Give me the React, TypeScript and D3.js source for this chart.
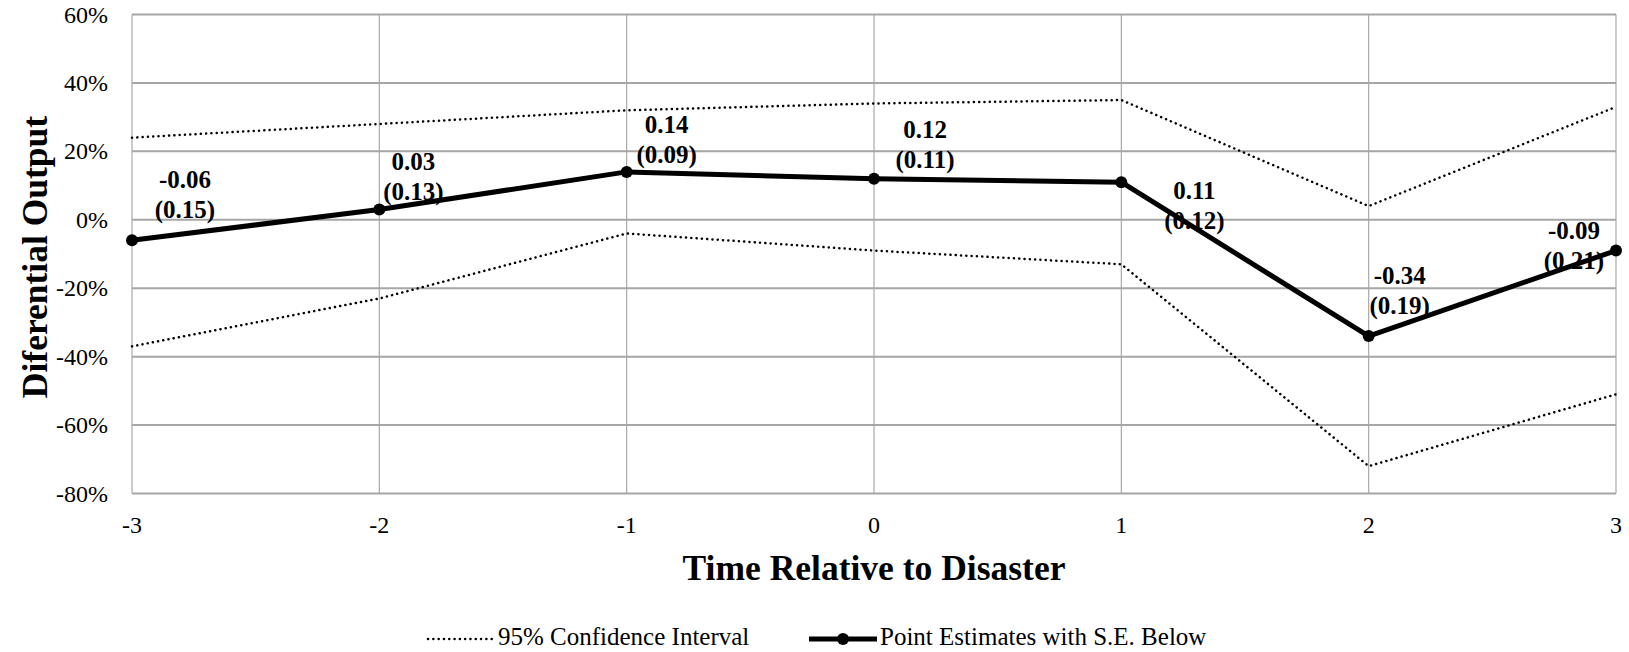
import React, { useEffect, useRef } from 'react';
import * as d3 from 'd3';

// time relative to disaster
const periods = [-3, -2, -1, 0, 1, 2, 3];
// point estimates and standard errors
const estimates = [-0.06, 0.03, 0.14, 0.12, 0.11, -0.34, -0.09];
const stdErrors = [0.15, 0.13, 0.09, 0.11, 0.12, 0.19, 0.21];
// 95% confidence bounds
const ciUpper = [0.24, 0.28, 0.32, 0.34, 0.35, 0.04, 0.33];
const ciLower = [-0.37, -0.23, -0.04, -0.09, -0.13, -0.72, -0.51];
const yTicks = [-0.8, -0.6, -0.4, -0.2, 0, 0.2, 0.4, 0.6];

// where the data labels sit relative to their point (px)
const labelDx = [53, 34, 40, 51, 73, 31, -42];
const labelDy = [-52, -40, -39, -41, 17, -52, -12];

const FONT = "'Liberation Serif', 'Times New Roman', serif";

const App = () => {
  const svgRef = useRef(null);

  useEffect(() => {
    const w = 1629;
    const h = 652;
    const left = 132, right = 1616, top = 14.5, bottom = 493.5;

    const svg = d3.select(svgRef.current);
    svg.selectAll('*').remove();
    svg.attr('width', w).attr('height', h).style('font-family', FONT);

    const x = d3.scaleLinear().domain([-3, 3]).range([left, right]);
    const y = d3.scaleLinear().domain([-0.8, 0.6]).range([bottom, top]);

    // grid
    svg.append('g')
      .selectAll('line')
      .data(periods)
      .enter()
      .append('line')
      .attr('x1', d => x(d)).attr('x2', d => x(d))
      .attr('y1', top).attr('y2', bottom)
      .attr('stroke', '#a9a9a9')
      .attr('stroke-width', 1.2);

    svg.append('g')
      .selectAll('line')
      .data(yTicks)
      .enter()
      .append('line')
      .attr('x1', left).attr('x2', right)
      .attr('y1', d => y(d)).attr('y2', d => y(d))
      .attr('stroke', '#a6a6a6')
      .attr('stroke-width', 2);

    // tick labels
    svg.append('g')
      .selectAll('text')
      .data(yTicks)
      .enter()
      .append('text')
      .attr('x', 108)
      .attr('y', d => y(d) + 8)
      .attr('text-anchor', 'end')
      .style('font-size', '24px')
      .text(d => `${Math.round(d * 100)}%`);

    svg.append('g')
      .selectAll('text')
      .data(periods)
      .enter()
      .append('text')
      .attr('x', d => x(d))
      .attr('y', 533)
      .attr('text-anchor', 'middle')
      .style('font-size', '24px')
      .text(d => `${d}`);

    // axis titles
    svg.append('text')
      .attr('x', (left + right) / 2)
      .attr('y', 580)
      .attr('text-anchor', 'middle')
      .style('font-size', '35.5px')
      .style('font-weight', 'bold')
      .text('Time Relative to Disaster');

    svg.append('text')
      .attr('transform', `translate(47,${(top + bottom) / 2 + 3}) rotate(-90)`)
      .attr('text-anchor', 'middle')
      .style('font-size', '35.5px')
      .style('font-weight', 'bold')
      .text('Diferential Output');

    const line = d3.line()
      .x((d, i) => x(periods[i]))
      .y(d => y(d));

    // confidence interval
    [ciUpper, ciLower].forEach(series => {
      svg.append('path')
        .datum(series)
        .attr('fill', 'none')
        .attr('stroke', 'black')
        .attr('stroke-width', 2.5)
        .attr('stroke-linecap', 'round')
        .attr('stroke-dasharray', '0.1,5.2')
        .attr('d', line);
    });

    // point estimates
    svg.append('path')
      .datum(estimates)
      .attr('fill', 'none')
      .attr('stroke', 'black')
      .attr('stroke-width', 5)
      .attr('stroke-linejoin', 'round')
      .attr('d', line);

    svg.selectAll('circle.pt')
      .data(estimates)
      .enter()
      .append('circle')
      .attr('class', 'pt')
      .attr('cx', (d, i) => x(periods[i]))
      .attr('cy', d => y(d))
      .attr('r', 6)
      .attr('fill', 'black');

    // data labels
    const labels = svg.append('g')
      .selectAll('text')
      .data(estimates)
      .enter()
      .append('text')
      .attr('text-anchor', 'middle')
      .style('font-size', '25px')
      .style('font-weight', 'bold');

    labels.append('tspan')
      .attr('x', (d, i) => x(periods[i]) + labelDx[i])
      .attr('y', (d, i) => y(d) + labelDy[i])
      .text(d => d.toFixed(2));

    labels.append('tspan')
      .attr('x', (d, i) => x(periods[i]) + labelDx[i])
      .attr('y', (d, i) => y(d) + labelDy[i] + 30)
      .text((d, i) => `(${stdErrors[i].toFixed(2)})`);

    // legend
    const lg = svg.append('g');
    lg.append('line')
      .attr('x1', 428).attr('x2', 494)
      .attr('y1', 639).attr('y2', 639)
      .attr('stroke', 'black')
      .attr('stroke-width', 2.5)
      .attr('stroke-linecap', 'round')
      .attr('stroke-dasharray', '0.1,5.2');
    lg.append('text')
      .attr('x', 498).attr('y', 645)
      .style('font-size', '25px')
      .text('95% Confidence Interval');

    lg.append('line')
      .attr('x1', 809).attr('x2', 877)
      .attr('y1', 639).attr('y2', 639)
      .attr('stroke', 'black')
      .attr('stroke-width', 5);
    lg.append('circle')
      .attr('cx', 843).attr('cy', 639)
      .attr('r', 6)
      .attr('fill', 'black');
    lg.append('text')
      .attr('x', 880).attr('y', 645)
      .style('font-size', '25px')
      .text('Point Estimates with S.E. Below');
  }, []);

  return (
    <div style={{ position: 'absolute', left: 0, top: 0 }}>
      <svg ref={svgRef} style={{ display: 'block' }} />
    </div>
  );
};

export default App;
